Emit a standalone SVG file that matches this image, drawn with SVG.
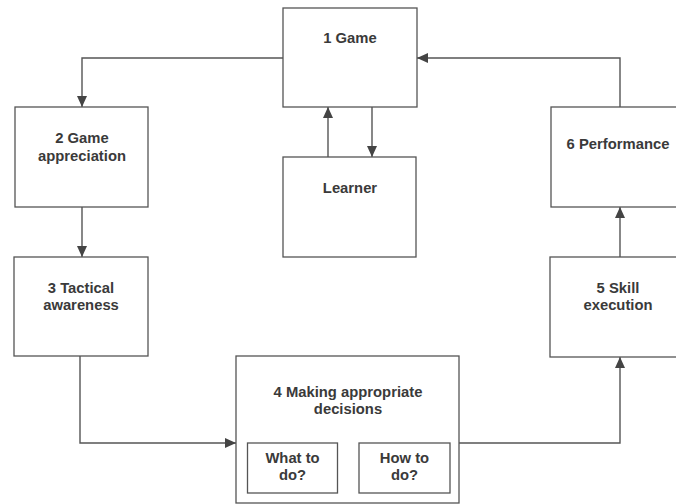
<svg xmlns="http://www.w3.org/2000/svg" width="676" height="504" viewBox="0 0 676 504">
<defs>
<style>
.box{fill:#fff;stroke:#555;stroke-width:1.3}
.lbl{font-family:"Liberation Sans",Arial,Helvetica,sans-serif;font-weight:bold;font-size:14.8px;fill:#3a3a3a;text-anchor:middle}
.con{fill:none;stroke:#555;stroke-width:1.4}
</style>
<marker id="ah" markerUnits="userSpaceOnUse" markerWidth="12" markerHeight="10" refX="11" refY="5" orient="auto">
<path d="M0,0 L11,5 L0,10 z" fill="#444"/>
</marker>
</defs>
<rect width="676" height="504" fill="#fff"/>
<g id="connectors">
<path class="con" d="M283,58 H82 V107" marker-end="url(#ah)"/>
<path class="con" d="M82,207 V257" marker-end="url(#ah)"/>
<path class="con" d="M328,157 V107" marker-end="url(#ah)"/>
<path class="con" d="M372,107 V157" marker-end="url(#ah)"/>
<path class="con" d="M80,356 V443 H236" marker-end="url(#ah)"/>
<path class="con" d="M459,443 H620 V357" marker-end="url(#ah)"/>
<path class="con" d="M620,257 V207" marker-end="url(#ah)"/>
<path class="con" d="M620,107 V58 H417" marker-end="url(#ah)"/>
</g>
<g id="n1">
<rect class="box" x="283" y="8" width="134" height="99"/>
<text class="lbl" x="350" y="43">1 Game</text>
</g>
<g id="n2">
<rect class="box" x="15" y="107" width="133" height="100"/>
<text class="lbl" x="82" y="143">2 Game</text>
<text class="lbl" x="82" y="160.5">appreciation</text>
</g>
<g id="learner">
<rect class="box" x="283" y="157" width="133" height="100"/>
<text class="lbl" x="350" y="193">Learner</text>
</g>
<g id="n3">
<rect class="box" x="14" y="257" width="134" height="99"/>
<text class="lbl" x="81" y="292.7">3 Tactical</text>
<text class="lbl" x="81" y="309.5">awareness</text>
</g>
<g id="n4">
<rect class="box" x="236" y="356" width="223" height="147"/>
<text class="lbl" x="348" y="396.7">4 Making appropriate</text>
<text class="lbl" x="348" y="413.5">decisions</text>
<g id="n4a">
<rect class="box" x="247.5" y="443" width="90" height="50"/>
<text class="lbl" x="292.5" y="462.7">What to</text>
<text class="lbl" x="292.5" y="480">do?</text>
</g>
<g id="n4b">
<rect class="box" x="359" y="443" width="91" height="50"/>
<text class="lbl" x="404.5" y="462.7">How to</text>
<text class="lbl" x="404.5" y="480">do?</text>
</g>
</g>
<g id="n5">
<rect class="box" x="550" y="257" width="135" height="100"/>
<text class="lbl" x="618" y="292.7">5 Skill</text>
<text class="lbl" x="618" y="309.5">execution</text>
</g>
<g id="n6">
<rect class="box" x="551" y="107" width="134" height="100"/>
<text class="lbl" x="618" y="149">6 Performance</text>
</g>
</svg>
